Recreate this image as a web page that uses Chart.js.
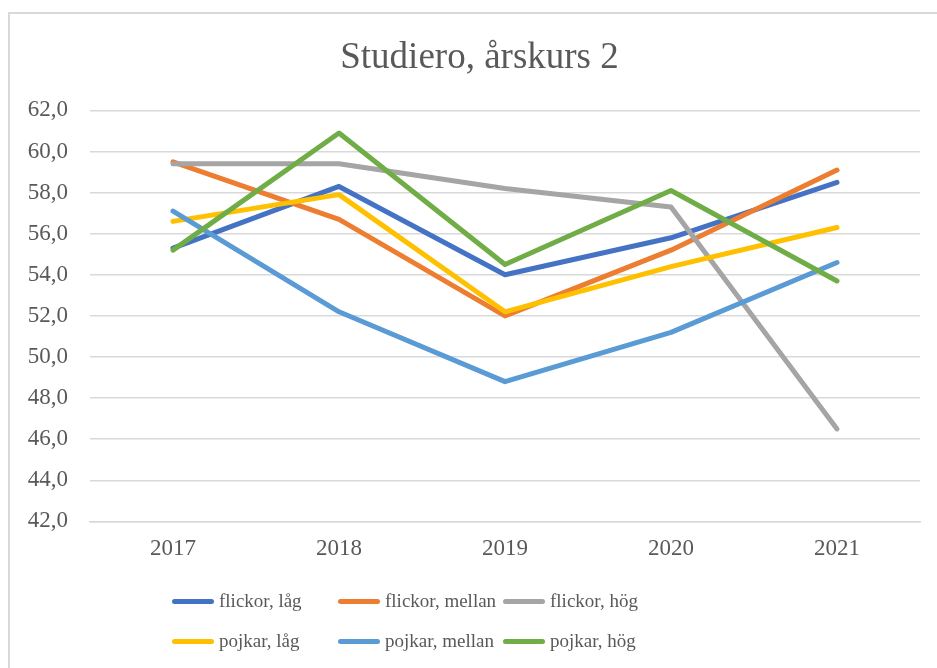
<!DOCTYPE html>
<html>
<head>
<meta charset="utf-8">
<script src="https://cdn.jsdelivr.net/npm/chart.js@4.4.1/dist/chart.umd.min.js"></script>
<style>
  html, body { margin: 0; padding: 0; background: #fff; overflow: hidden; }
  #frame {
    position: absolute; left: 8px; top: 12px;
    width: 939px; height: 668px;
    border-left: 2px solid #d9d9d9; border-top: 2px solid #d9d9d9;
  }
  #chartBox { position: relative; width: 939px; height: 668px; }
  #legend {
    position: absolute; left: 172px; top: 584px;
    display: grid; grid-template-columns: 166px 165px 200px;
    row-gap: 6px;
    font-family: "Liberation Serif", "Times New Roman", serif;
    font-size: 19px; color: #595959;
  }
  .item { display: flex; align-items: center; height: 34px; white-space: nowrap; }
  .swatch { width: 42px; height: 5px; border-radius: 3px; margin-right: 5px; }
</style>
</head>
<body>
<div id="frame">
  <div id="chartBox"><canvas id="studieroChart"></canvas></div>
</div>
<div id="legend"></div>
<script>
// Data
const years = ['2017', '2018', '2019', '2020', '2021'];
const seriesNames = ['flickor, låg', 'flickor, mellan', 'flickor, hög', 'pojkar, låg', 'pojkar, mellan', 'pojkar, hög'];
const flickorLag = [55.3, 58.3, 54.0, 55.8, 58.5];
const flickorMellan = [59.5, 56.7, 52.0, 55.2, 59.1];
const flickorHog = [59.4, 59.4, 58.2, 57.3, 46.5];
const pojkarLag = [56.6, 57.9, 52.2, 54.4, 56.3];
const pojkarMellan = [57.1, 52.2, 48.8, 51.2, 54.6];
const pojkarHog = [55.2, 60.9, 54.5, 58.1, 53.7];
const yTicks = [42, 44, 46, 48, 50, 52, 54, 56, 58, 60, 62];

const seriesValues = [flickorLag, flickorMellan, flickorHog, pojkarLag, pojkarMellan, pojkarHog];
const seriesColors = ['#4472C4', '#ED7D31', '#A5A5A5', '#FFC000', '#5B9BD5', '#70AD47'];

const textColor = '#595959';
const gridColor = '#d9d9d9';
const serif = '"Liberation Serif", "Times New Roman", serif';

const ctx = document.getElementById('studieroChart').getContext('2d');

const datasets = seriesNames.map((name, i) => ({
    label: name,
    data: seriesValues[i],
    borderColor: seriesColors[i],
    backgroundColor: seriesColors[i],
    borderWidth: 5,
    borderCapStyle: 'round',
    borderJoinStyle: 'round',
    pointRadius: 0,
    fill: false,
    tension: 0,
    order: seriesNames.length - i // senare serier ritas överst
}));

const chart = new Chart(ctx, {
    type: 'line',
    data: { labels: years, datasets: datasets },
    options: {
        responsive: true,
        maintainAspectRatio: false,
        animation: false,
        layout: { padding: { left: 0, right: 0, top: 0, bottom: 105 } },
        scales: {
            x: {
                offset: true,
                grid: { display: false, drawTicks: false },
                border: { display: true, color: gridColor, width: 1.5 },
                ticks: {
                    color: textColor,
                    font: { family: serif, size: 23 },
                    padding: 14,
                    maxRotation: 0
                }
            },
            y: {
                min: yTicks[0],
                max: yTicks[yTicks.length - 1],
                afterBuildTicks: (axis) => { axis.ticks = yTicks.map(v => ({ value: v })); },
                afterFit: (axis) => { axis.width = 80; },
                grid: { color: gridColor, lineWidth: 1.5, drawTicks: false },
                border: { display: false },
                ticks: {
                    color: textColor,
                    font: { family: serif, size: 23 },
                    padding: 22,
                    callback: (v) => Number(v).toFixed(1).replace('.', ',')
                }
            },
            // tom axel till höger, bara för marginalen
            yRight: {
                position: 'right',
                min: yTicks[0],
                max: yTicks[yTicks.length - 1],
                afterFit: (axis) => { axis.width = 29; },
                grid: { display: false, drawTicks: false },
                border: { display: false },
                ticks: { display: false }
            }
        },
        plugins: {
            legend: { display: false },
            tooltip: { enabled: false },
            title: {
                display: true,
                text: 'Studiero, årskurs 2',
                color: textColor,
                font: { family: serif, size: 37, weight: 'normal' },
                padding: { top: 22, bottom: 30 }
            }
        }
    }
});

// HTML-legend byggd från diagrammets egna etiketter, i seriernas ordning
const legendEl = document.getElementById('legend');
chart.options.plugins.legend.labels.generateLabels(chart)
    .sort((a, b) => a.datasetIndex - b.datasetIndex)
    .forEach(item => {
        const div = document.createElement('div');
        div.className = 'item';
        const sw = document.createElement('span');
        sw.className = 'swatch';
        sw.style.background = item.strokeStyle;
        const txt = document.createElement('span');
        txt.textContent = item.text;
        div.appendChild(sw);
        div.appendChild(txt);
        legendEl.appendChild(div);
    });
</script>
</body>
</html>
